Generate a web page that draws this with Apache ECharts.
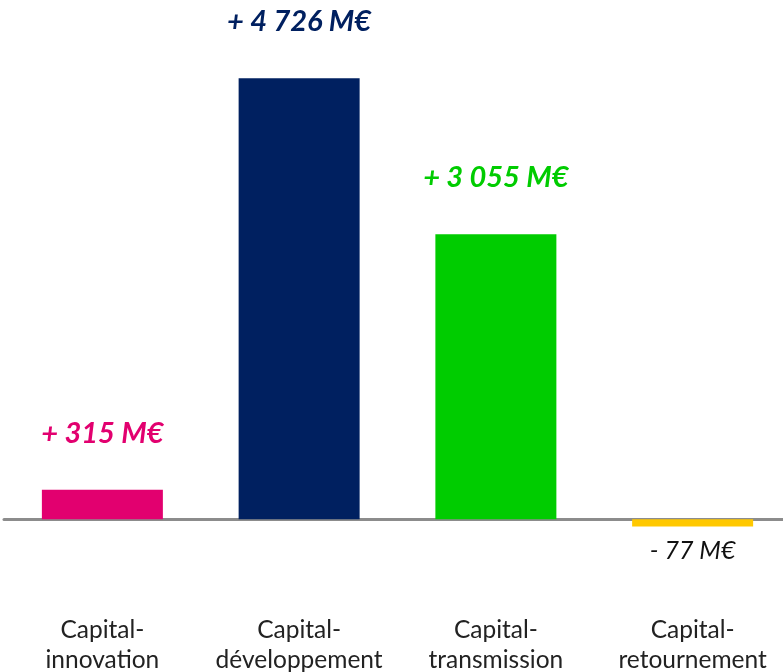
<!DOCTYPE html>
<html>
<head>
<meta charset="utf-8">
<style>
  html, body { margin: 0; padding: 0; background: #fff; }
  #chart { width: 783px; height: 672px; }
</style>
<script src="https://cdn.jsdelivr.net/npm/echarts@6/dist/echarts.min.js"></script>
</head>
<body>
<div id="chart"></div>
<script>
// données
var categories = ['Capital-\ninnovation', 'Capital-\ndéveloppement', 'Capital-\ntransmission', 'Capital-\nretournement'];
var values = [315, 4726, 3055, -77];
var labels = ['+ 315 M€', '+ 4 726 M€', '+ 3 055 M€', '- 77 M€'];
var barColors = ['#e2006f', '#002060', '#00cc00', '#ffc800'];
var labelColors = ['#e2006f', '#002060', '#00cc00', '#111111'];

var chart = echarts.init(document.getElementById('chart'));

var seriesData = [];
for (var i = 0; i < values.length; i++) {
  var neg = values[i] < 0;
  seriesData.push({
    value: values[i],
    itemStyle: { color: barColors[i] },
    label: {
      show: true,
      position: neg ? 'bottom' : 'top',
      distance: neg ? 12 : 42,
      formatter: labels[i],
      color: labelColors[i],
      fontStyle: 'italic',
      fontWeight: neg ? 'normal' : 'bold',
      fontSize: neg ? 25 : 29
    }
  });
}

var option = {
  backgroundColor: '#fff',
  animation: false,
  grid: { left: 4, top: 6, width: 787, height: 606.5, containLabel: false, outerBoundsMode: 'none' },
  xAxis: [{
    // ligne du zéro
    type: 'category',
    data: categories,
    axisLine: { onZero: true, lineStyle: { color: '#8c8c8c', width: 3 } },
    axisTick: { show: false },
    axisLabel: { show: false }
  }, {
    // libellés des catégories en bas
    type: 'category',
    data: categories,
    position: 'bottom',
    axisLine: { show: false, onZero: false },
    axisTick: { show: false },
    axisLabel: {
      interval: 0,
      margin: 3,
      color: '#222',
      fontFamily: 'Lato',
      fontSize: 24.5,
      lineHeight: 30
    }
  }],
  yAxis: {
    type: 'value',
    min: -1000,
    max: 5500,
    show: false,
    splitLine: { show: false }
  },
  series: [{
    type: 'bar',
    barWidth: 121,
    data: seriesData,
    label: { fontFamily: 'Lato' }
  }]
};
chart.setOption(option);
</script>
</body>
</html>
